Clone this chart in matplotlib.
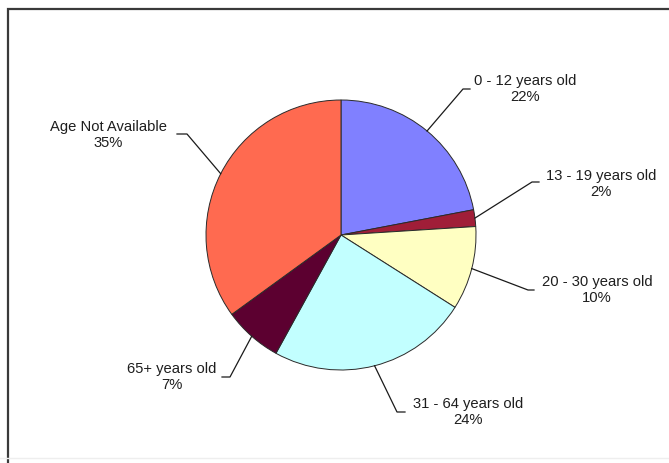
import matplotlib
matplotlib.use("Agg")
import matplotlib.pyplot as plt
import numpy as np

plt.rcParams["font.family"] = ["Liberation Sans", "DejaVu Sans"]

groups = ["0 - 12 years old", "13 - 19 years old", "20 - 30 years old",
          "31 - 64 years old", "65+ years old", "Age Not Available"]
shares = [22, 2, 10, 24, 7, 35]
colors = ["#8080FF", "#A01E38", "#FFFFC2", "#C2FFFF", "#5C0030", "#FF6A50"]

W, H = 669, 463
# label block centres, leader elbows and leader ends, in image pixels (y down)
label_xy = [(525, 89), (601, 184), (597, 290), (468, 412), (172, 377), (108, 135)]
elbow_xy = [(463, 89), (532, 182), (528, 290), (397, 412), (230, 377), (187, 134)]
end_xy = [(470, 89), (539, 182), (534, 290), (405, 412), (222, 377), (177, 134)]


def px(p):
    # image pixel (y down) -> data coords (y up)
    return p[0], H - p[1]


fig = plt.figure(figsize=(W / 100, H / 100), dpi=100)
ax = fig.add_axes([0, 0, 1, 1])
cx, cy, rad = 341, H - 235, 135
wedges, _ = ax.pie(shares, colors=colors, startangle=90, counterclock=False,
                   center=(cx, cy), radius=rad,
                   wedgeprops=dict(edgecolor="#2a2a2a", linewidth=0.7))
ax.set_xlim(0, W)
ax.set_ylim(0, H)
ax.set_aspect("equal")
ax.axis("off")

# leader lines + two-line labels
for w, name, v, lab, elb, end in zip(wedges, groups, shares, label_xy, elbow_xy, end_xy):
    mid = np.deg2rad((w.theta1 + w.theta2) / 2)
    sx, sy = cx + rad * np.cos(mid), cy + rad * np.sin(mid)
    ex, ey = px(elb)
    tx, ty = px(end)
    ax.plot([sx, ex, tx], [sy, ey, ty], color="#1a1a1a", lw=0.9, clip_on=False)
    lx, ly = px(lab)
    ax.text(lx, ly, f"{name}\n{v}%", ha="center", va="center", multialignment="center",
            fontsize=10.6, color="#1e1e1e", linespacing=1.2)

# chart border (left + top edges visible)
ax.plot([7.5, 7.5, W], [0, H - 8.5, H - 8.5], color="#3a3a3a", lw=1.6,
        solid_joinstyle="miter", clip_on=False)
ax.plot([0, W], [H - 458, H - 458], color="#eeeeee", lw=1.0)

fig.savefig("out.png", dpi=100, facecolor="white")
